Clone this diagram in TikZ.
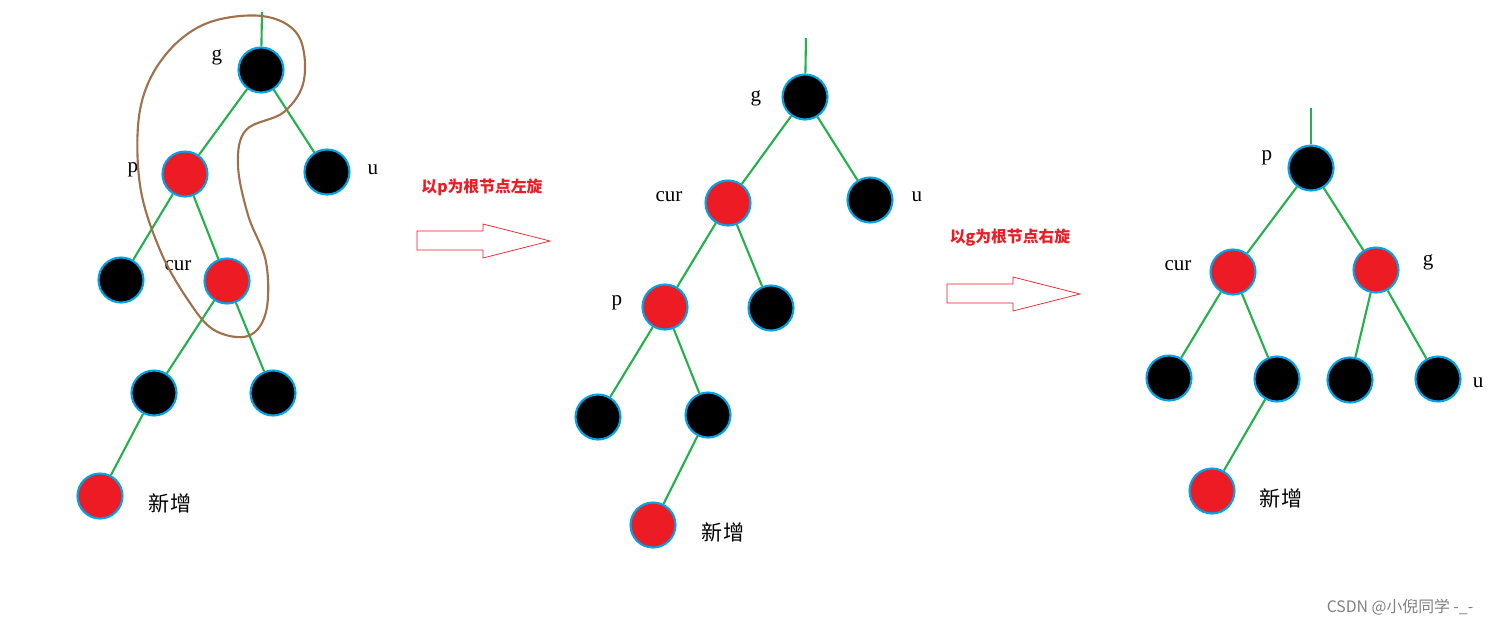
\documentclass[tikz,border=0pt]{standalone}
\usepackage{fontspec}
\setmainfont{Liberation Serif}
\newfontfamily\cjk{Noto Sans CJK SC}
\definecolor{rbRed}{HTML}{ED1C24}
\definecolor{rbCyan}{HTML}{00A2E8}
\definecolor{rbGreen}{HTML}{22B14C}
\definecolor{rbBrown}{HTML}{A0704A}
\tikzstyle{blackNode}=[draw=rbCyan,line width=1.2pt,circle,fill=black,minimum size=0.9cm,inner sep=0pt]
\tikzstyle{redNode}=[blackNode,fill=rbRed]
\tikzstyle{treeEdge}=[rbGreen,line width=1.2pt]
\tikzstyle{nameLabel}=[font=\fontsize{12}{12}\selectfont]
\tikzstyle{newLabel}=[font=\cjk\fontsize{12}{12}\selectfont]
\tikzstyle{stepLabel}=[font=\cjk\bfseries\fontsize{9}{9}\selectfont,text=rbRed]
\tikzstyle{hollowArrow}=[draw=rbRed,line width=0.4pt,fill=white]

\begin{document}
\begin{tikzpicture}[x=0.02cm,y=-0.02cm]

    \useasboundingbox (0,0) rectangle (1507,626);

    % first tree

    \coordinate (t1) at (262,12);
    \node[blackNode] (g1) at (261,70) {};
    \node[blackNode] (u1) at (327,172) {};
    \node[redNode] (p1) at (185,174) {};
    \node[blackNode] (a1) at (121,280) {};
    \node[redNode] (c1) at (227,281) {};
    \node[blackNode] (b1) at (154,393) {};
    \node[blackNode] (d1) at (273,393) {};
    \node[redNode] (n1) at (100,496) {};

    \node[nameLabel] at (217,57) {g};
    \node[nameLabel] at (133,170) {p};
    \node[nameLabel] at (373,170) {u};
    \node[nameLabel] at (178,266) {cur};
    \node[newLabel] at (170,503) {新增};

    \draw[treeEdge] (t1) -- (g1);
    \draw[treeEdge] (g1) -- (p1);
    \draw[treeEdge] (g1) -- (u1);
    \draw[treeEdge] (p1) -- (a1);
    \draw[treeEdge] (p1) -- (c1);
    \draw[treeEdge] (c1) -- (b1);
    \draw[treeEdge] (c1) -- (d1);
    \draw[treeEdge] (b1) -- (n1);

    \draw[rbBrown,line width=1.2pt] plot[smooth cycle,tension=0.6] coordinates {
      (262,16) (298,35) (304,80) (284,112) (246,130) (238,165) (248,215)
      (266,262) (266,312) (248,336) (214,330) (188,300) (160,250)
      (140,185) (140,110) (163,58) (205,24)};

    % first rotation

    \node[stepLabel] (s1) at (482,187) {以p为根节点左旋};
    \draw[hollowArrow] (417,231) -- (483,231) -- (483,224) -- (550,241)
      -- (483,258) -- (483,250) -- (417,250) -- cycle;

    % second tree

    \coordinate (t2) at (806,38);
    \node[blackNode] (g2) at (805,97) {};
    \node[redNode] (c2) at (728,203) {};
    \node[blackNode] (u2) at (870,200) {};
    \node[redNode] (p2) at (665,307) {};
    \node[blackNode] (d2) at (771,308) {};
    \node[blackNode] (a2) at (598,417) {};
    \node[blackNode] (b2) at (708,415) {};
    \node[redNode] (n2) at (653,525) {};

    \node[nameLabel] at (756,98) {g};
    \node[nameLabel] at (669,197) {cur};
    \node[nameLabel] at (917,197) {u};
    \node[nameLabel] at (617,303) {p};
    \node[newLabel] at (723,532) {新增};

    \draw[treeEdge] (t2) -- (g2);
    \draw[treeEdge] (g2) -- (c2);
    \draw[treeEdge] (g2) -- (u2);
    \draw[treeEdge] (c2) -- (p2);
    \draw[treeEdge] (c2) -- (d2);
    \draw[treeEdge] (p2) -- (a2);
    \draw[treeEdge] (p2) -- (b2);
    \draw[treeEdge] (b2) -- (n2);

    % second rotation

    \node[stepLabel] (s2) at (1010,238) {以g为根节点右旋};
    \draw[hollowArrow] (947,284) -- (1013,284) -- (1013,277) -- (1080,294)
      -- (1013,311) -- (1013,303) -- (947,303) -- cycle;

    % third tree

    \coordinate (t3) at (1311,108);
    \node[blackNode] (p3) at (1311,168) {};
    \node[redNode] (c3) at (1233,272) {};
    \node[redNode] (g3) at (1376,270) {};
    \node[blackNode] (a3) at (1169,378) {};
    \node[blackNode] (b3) at (1277,379) {};
    \node[blackNode] (d3) at (1350,380) {};
    \node[blackNode] (u3) at (1438,379) {};
    \node[redNode] (n3) at (1212,491) {};

    \node[nameLabel] at (1267,158) {p};
    \node[nameLabel] at (1178,266) {cur};
    \node[nameLabel] at (1428,262) {g};
    \node[nameLabel] at (1478,383) {u};
    \node[newLabel] at (1281,498) {新增};

    \draw[treeEdge] (t3) -- (p3);
    \draw[treeEdge] (p3) -- (c3);
    \draw[treeEdge] (p3) -- (g3);
    \draw[treeEdge] (c3) -- (a3);
    \draw[treeEdge] (c3) -- (b3);
    \draw[treeEdge] (g3) -- (d3);
    \draw[treeEdge] (g3) -- (u3);
    \draw[treeEdge] (b3) -- (n3);

    \node[font=\cjk\fontsize{9}{9}\selectfont,text=gray] at (1400,607) {CSDN @小倪同学 -\_-};

\end{tikzpicture}
\end{document}
